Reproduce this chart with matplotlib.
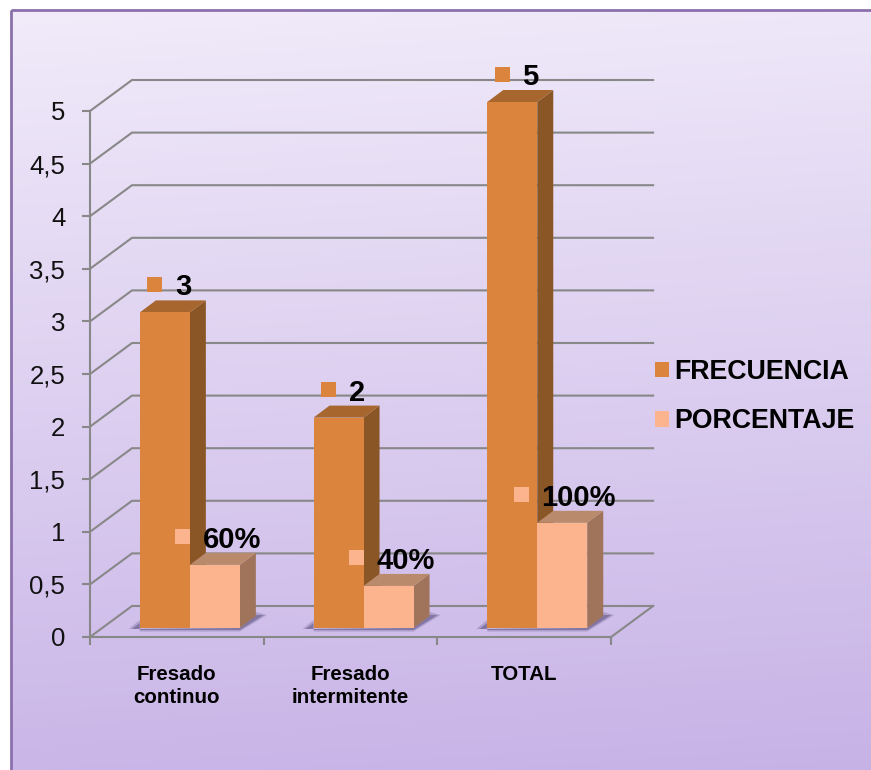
import numpy as np
import matplotlib
matplotlib.use("Agg")
import matplotlib.pyplot as plt
from matplotlib.patches import Patch, Polygon, Rectangle
from matplotlib.transforms import Affine2D, IdentityTransform

categories = ["Fresado\ncontinuo", "Fresado\nintermitente", "TOTAL"]
frecuencia = [3, 2, 5]
porcentaje = [0.6, 0.4, 1.0]
frecuencia_labels = ["3", "2", "5"]
porcentaje_labels = ["60%", "40%", "100%"]
y_ticks = [0, 0.5, 1, 1.5, 2, 2.5, 3, 3.5, 4, 4.5, 5]
y_tick_labels = ["0", "0,5", "1", "1,5", "2", "2,5", "3", "3,5", "4", "4,5", "5"]

W, H = 871, 770
# pixels per data unit and where the origin of the front plane sits
X0, Y0, XU, YU = 90, 637, 173.7, 105.2
# depth of the back wall and of the bars' front face, then the bar's own depth
WALL = (42, 31)
FACE = (13, 9)
BAR_DEPTH = (16, 12)
BAR_W = 50 / XU

ORANGE = ("#DB843D", "#A7662E", "#8B5626")
PEACH = ("#FBB48E", "#BA8A6C", "#A0745A")
GRID = "#888888"

plt.rcParams["font.family"] = ["Liberation Sans", "DejaVu Sans"]

fig = plt.figure(figsize=(W / 100, H / 100), dpi=100, facecolor="white")

# panel background
bg = fig.add_axes([0, 0, 1, 1], zorder=0)
bg.axis("off")
rows, cols = np.mgrid[0:1:200j, 0:1:200j]
shade = np.clip(rows * 0.93 + cols * 0.07, 0, 1)
top = np.array([241, 235, 250]) / 255
bottom = np.array([199, 178, 230]) / 255
img = top + (bottom - top) * shade[..., None]
bg.imshow(img, extent=(11, W + 4, H + 4, 10), aspect="auto", interpolation="bilinear")
bg.set_xlim(0, W)
bg.set_ylim(H, 0)
bg.add_patch(Rectangle((11, 10), W + 10, H + 10, fill=False, ec="#8B70AE", lw=2.0))

ax = fig.add_axes([0, 0, 1, 1], zorder=1)
ax.patch.set_alpha(0)
ax.set_xlim(-X0 / XU, (W - X0) / XU)
ax.set_ylim(-(H - Y0) / YU, Y0 / YU)
ax.set_autoscale_on(False)


def px(x, y, off=(0, 0)):
    # data position pushed back by a depth offset, in display pixels
    p = ax.transData.transform((x, y))
    return p[0] + off[0], p[1] + off[1]


def shifted(p, off):
    return p[0] + off[0], p[1] + off[1]


def poly(points, color, z, alpha=None):
    ax.add_patch(Polygon(points, closed=True, fc=color, ec="none", alpha=alpha,
                         transform=IdentityTransform(), zorder=z))


# back wall and floor lines
for v in y_ticks:
    a, b = px(0, v), px(0, v, WALL)
    c = px(len(categories), v, WALL)
    ax.plot([a[0], b[0], c[0]], [a[1], b[1], c[1]], color=GRID, lw=1.5,
            transform=IdentityTransform(), zorder=1, solid_joinstyle="miter")
a, b = px(len(categories), 0), px(len(categories), 0, WALL)
ax.plot([a[0], b[0]], [a[1], b[1]], color=GRID, lw=1.5,
        transform=IdentityTransform(), zorder=1)


def draw_bar(x_left, value, colors, z):
    br = px(x_left + BAR_W, 0, FACE)
    tl = px(x_left, value, FACE)
    tr = px(x_left + BAR_W, value, FACE)
    # side and top first, the front face goes over them
    poly([br, tr, shifted(tr, BAR_DEPTH), shifted(br, BAR_DEPTH)], colors[2], z)
    poly([tl, tr, shifted(tr, BAR_DEPTH), shifted(tl, BAR_DEPTH)], colors[1], z)
    ax.bar(x_left, value, width=BAR_W, align="edge", color=colors[0],
           transform=ax.transData + Affine2D().translate(*FACE), zorder=z + 0.1)


def draw_shadow(x_left):
    bl = px(x_left, 0, FACE)
    br = px(x_left + 2 * BAR_W, 0, FACE)
    far = shifted(br, BAR_DEPTH)
    for grow, alpha in ((3, 0.3), (0, 0.55)):
        # wedge left of the bars, thin strip under them, wedge past the side face
        poly([(bl[0] - 8 - grow, bl[1] - 1), (bl[0], bl[1] + 5 + grow), (bl[0], bl[1] - 2 - grow / 2),
              (br[0], br[1] - 2 - grow / 2), (far[0] + 8 + grow, far[1] + 1), (far[0], far[1] + 1 + grow),
              (br[0], br[1])], "#5F5585", 1.5, alpha)


def draw_label(x_left, value, text, color, marker_dx):
    # small colour key plus the value, floating above the bar
    cx = px(x_left + BAR_W / 2, value, FACE)
    mx, my = cx[0] + marker_dx, cx[1] + 28
    ax.add_patch(Rectangle((mx - 7.5, my - 7.5), 15, 15, fc=color, ec="none",
                           transform=IdentityTransform(), zorder=9))
    ax.text(mx + 20, my, text, transform=IdentityTransform(), ha="left",
            va="center_baseline", fontsize=21, fontweight="bold", color="black",
            zorder=10)


marker_shift = {1: -10, 3: -32, 4: -41}
for i in range(len(categories)):
    left = i + 0.5 - BAR_W
    draw_shadow(left)
    draw_bar(left, frecuencia[i], ORANGE, 3 + i)
    draw_bar(left + BAR_W, porcentaje[i], PEACH, 3.5 + i)
    draw_label(left, frecuencia[i], frecuencia_labels[i], ORANGE[0],
               marker_shift[len(frecuencia_labels[i])])
    draw_label(left + BAR_W, porcentaje[i], porcentaje_labels[i], PEACH[0],
               marker_shift[len(porcentaje_labels[i])])

# front axes with their ticks
for side in ("top", "right"):
    ax.spines[side].set_visible(False)
ax.spines["left"].set_position(("data", 0))
ax.spines["bottom"].set_position(("data", 0))
ax.spines["left"].set_bounds(0, 5)
ax.spines["bottom"].set_bounds(0, 3)
for side in ("left", "bottom"):
    ax.spines[side].set_color(GRID)
    ax.spines[side].set_linewidth(1.5)
    ax.spines[side].set_zorder(2)

ax.set_yticks(y_ticks, y_tick_labels)
ax.tick_params(axis="y", length=5.8, width=1.5, color=GRID, pad=12, labelsize=18.5,
               labelcolor="#111111")

ax.set_xticks([0, 1, 2, 3], ["", "", "", ""])
ax.set_xticks([0.5, 1.5, 2.5], categories, minor=True)
ax.tick_params(axis="x", which="major", length=5.8, width=1.5, color=GRID)
ax.tick_params(axis="x", which="minor", length=0, pad=20, labelsize=14.8)
for t in ax.get_xticklabels(minor=True):
    t.set_fontweight("bold")
    t.set_linespacing(1.3)

ax.legend(handles=[Patch(fc=ORANGE[0], label="FRECUENCIA"), Patch(fc=PEACH[0], label="PORCENTAJE")],
          loc="upper left", bbox_to_anchor=(655 / W, 1 - 359 / H), bbox_transform=fig.transFigure,
          frameon=False, prop={"size": 19.3, "weight": "bold"}, handlelength=0.52, handleheight=0.52,
          handletextpad=0.2, labelspacing=0.87, borderpad=0, borderaxespad=0)

fig.savefig("out.png", dpi=100)
